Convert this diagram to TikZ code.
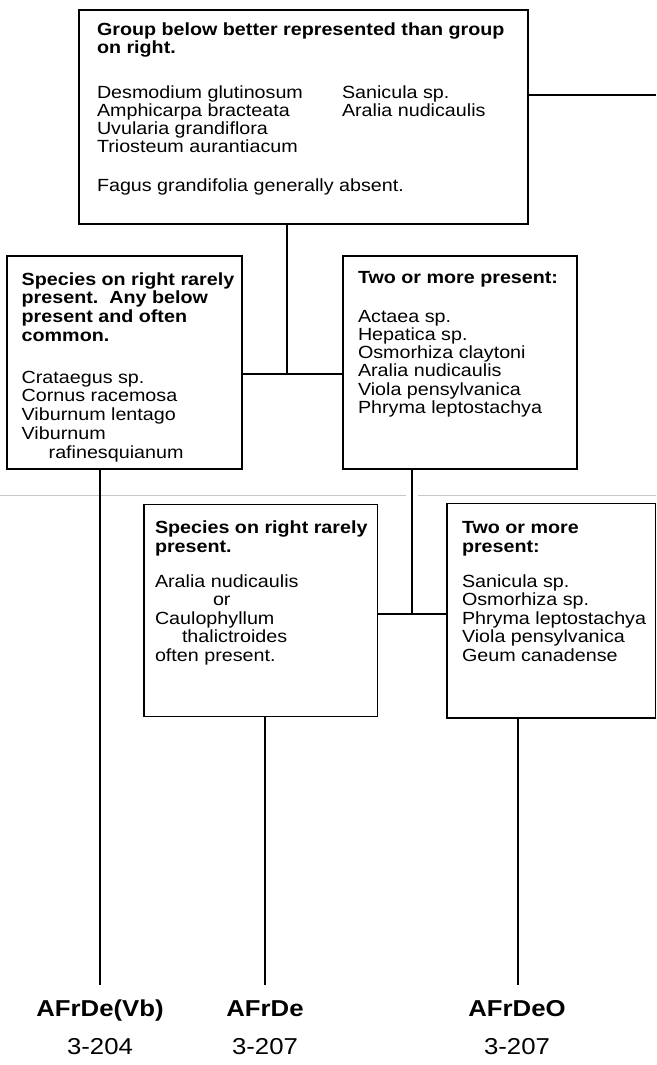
\documentclass[tikz,border=0pt]{standalone}
\usepackage{fontspec}
\setmainfont{Liberation Sans}[FakeStretch=1.12]
\newcommand{\bodyfont}[1]{\fontsize{17.6pt}{#1}\selectfont}
\newcommand{\boxtxt}[2]{\parbox[t]{480pt}{\raggedright\bodyfont{#1}#2}}
\begin{document}
\begin{tikzpicture}[x=1pt,y=-1pt,
  box/.style={draw, line width=1.4pt, rectangle, inner sep=0pt, outer sep=0pt, anchor=north west},
  txt/.style={inner sep=0pt, outer sep=0pt, anchor=base west},
  conn/.style={line width=1.4pt},
  lab/.style={inner sep=0pt, anchor=base, font=\fontsize{23pt}{26pt}\selectfont\bfseries},
  num/.style={inner sep=0pt, anchor=base, font=\fontsize{23pt}{26pt}\selectfont},
  scan/.style={gray!45, line width=0.6pt}]
\useasboundingbox (0,0) rectangle (656,1065);

% scan artefact
\draw[scan] (0,495) -- (406,495) (418,495) -- (656,495);

% boxes
\node[box, minimum width=449pt, minimum height=214pt] (b1) at (79,10) {};
\node[box, minimum width=235pt, minimum height=213pt] (b2) at (7,256) {};
\node[box, minimum width=234pt, minimum height=213pt] (b3) at (343,256) {};
\node[box, minimum width=233.5pt, minimum height=212pt] (b4) at (144,504.5) {};
\node[box, minimum width=208.5pt, minimum height=214.5pt] (b5) at (447,503.5) {};

% texts
\node[txt] (t1) at (97,35.3) {\boxtxt{18pt}{\textbf{Group below better represented than group}\\
\textbf{on right.}\\[27.4pt]
Desmodium glutinosum\\Amphicarpa bracteata\\Uvularia grandiflora\\Triosteum aurantiacum\\[20.7pt]
Fagus grandifolia generally absent.}};
\node[txt] (t1b) at (342,98.7) {\boxtxt{18pt}{Sanicula sp.\\Aralia nudicaulis}};

\node[txt] (t2) at (21.7,285) {\boxtxt{18.9pt}{\textbf{Species on right rarely}\\
\textbf{present.~~Any below}\\\textbf{present and often}\\\textbf{common.}\\[22.4pt]
Crataegus sp.\\Cornus racemosa\\Viburnum lentago\\Viburnum\\\hspace*{27pt}rafinesquianum}};

\node[txt] (t3) at (358,283) {\boxtxt{18.3pt}{\textbf{Two or more present:}\\[20.7pt]
Actaea sp.\\Hepatica sp.\\Osmorhiza claytoni\\Aralia nudicaulis\\Viola pensylvanica\\Phryma leptostachya}};

\node[txt] (t4) at (155,533.7) {\boxtxt{18.4pt}{\textbf{Species on right rarely}\\\textbf{present.}\\[17pt]
Aralia nudicaulis\\\hspace*{58pt}or\\Caulophyllum\\\hspace*{27pt}thalictroides\\often present.}};

\node[txt] (t5) at (462,533.7) {\boxtxt{18.4pt}{\textbf{Two or more}\\\textbf{present:}\\[17pt]
Sanicula sp.\\Osmorhiza sp.\\Phryma leptostachya\\Viola pensylvanica\\Geum canadense}};

% labels
\node[lab] (l1) at (100,1016) {AFrDe(Vb)};
\node[lab] (l2) at (265,1016) {AFrDe};
\node[lab] (l3) at (517,1016) {AFrDeO};
\node[num] (n1) at (100,1054) {3-204};
\node[num] (n2) at (265,1054) {3-207};
\node[num] (n3) at (517,1054) {3-207};

% connectors
\coordinate (r1) at (656,95);
\coordinate (j1) at (287,374);
\coordinate (j2) at (412,614);
\coordinate (e1) at (100,985);
\coordinate (e2) at (265,985);
\coordinate (e3) at (518,985);
\draw[conn] (b1.east |- r1) -- (r1);
\draw[conn] (b1.south -| j1) -- (j1);
\draw[conn] (b2.east |- j1) -- (b3.west |- j1);
\draw[conn] (b3.south -| j2) -- (j2);
\draw[conn] (b4.east |- j2) -- (b5.west |- j2);
\draw[conn] (b2.south -| e1) -- (e1);
\draw[conn] (b4.south -| e2) -- (e2);
\draw[conn] (b5.south -| e3) -- (e3);
\end{tikzpicture}
\end{document}
